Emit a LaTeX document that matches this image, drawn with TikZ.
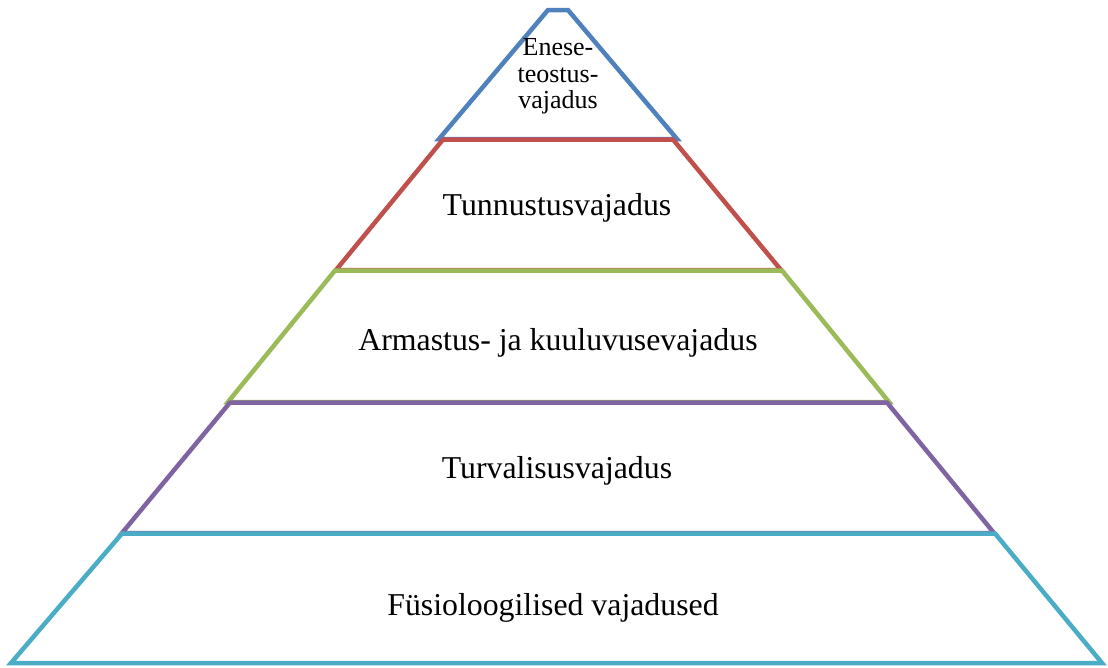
\documentclass[tikz,border=0pt]{standalone}
\usepackage{fontspec}
\setmainfont{Liberation Serif}
\definecolor{cblue}{HTML}{4F81BD}
\definecolor{cred}{HTML}{C0504D}
\definecolor{cgreen}{HTML}{9BBB59}
\definecolor{cpurple}{HTML}{8064A2}
\definecolor{ccyan}{HTML}{4BACC6}
\tikzset{
  level/.style={line width=4.5pt, line join=miter, fill=white},
  lbl/.style={font=\fontsize{31.8}{36}\selectfont, anchor=base, inner sep=0pt},
  toplbl/.style={font=\fontsize{26}{27}\selectfont, anchor=base, inner sep=0pt},
}
\begin{document}
\begin{tikzpicture}[x=1pt,y=-1pt]
\useasboundingbox (0,0) rectangle (1108,667);
\draw[level, draw=cblue] (548,10) -- (568,10) -- (677,139) -- (439,139) -- cycle;
\draw[level, draw=cred] (443,139.5) -- (673,139.5) -- (781,270) -- (336,270) -- cycle;
\draw[level, draw=cgreen] (335,270.5) -- (782,270.5) -- (889,402) -- (228,402) -- cycle;
\draw[level, draw=cpurple] (230,402.5) -- (887,402.5) -- (994,533) -- (122,533) -- cycle;
\draw[level, draw=ccyan] (122,533.5) -- (995,533.5) -- (1102,663) -- (11,663) -- cycle;
\node[toplbl] (t1) at (558,55) {Enese-};
\node[toplbl] (t2) at (558,82) {teostus-};
\node[toplbl] (t3) at (558,108) {vajadus};
\node[lbl] (l2) at (557,215) {Tunnustusvajadus};
\node[lbl] (l3) at (558,350) {Armastus- ja kuuluvusevajadus};
\node[lbl] (l4) at (557,478) {Turvalisusvajadus};
\node[lbl] (l5) at (553,615) {Füsioloogilised vajadused};
\end{tikzpicture}
\end{document}
